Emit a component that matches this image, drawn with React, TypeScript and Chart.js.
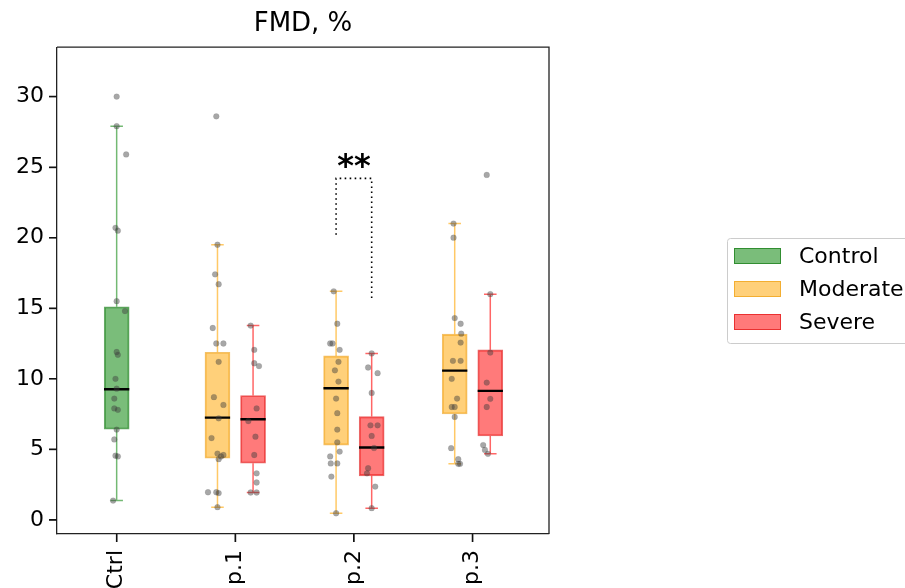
import React, { useEffect, useRef } from "react";
import { Chart, registerables } from "chart.js";
Chart.register(...registerables);

// ---------- data ----------
const categories = ["Ctrl", "p.1", "p.2", "p.3"];
const seriesNames = ["Control", "Moderate", "Severe"];
const yTickValues = [0, 5, 10, 15, 20, 25, 30];
const titleText = "FMD, %";

// box statistics (category index, whisker low, Q1, median, Q3, whisker high)
const controlCategory = [0];
const controlLow = [1.37];
const controlQ1 = [6.43];
const controlMedian = [9.26];
const controlQ3 = [15.1];
const controlHigh = [27.9];

const moderateCategory = [1, 2, 3];
const moderateLow = [0.9, 0.47, 3.97];
const moderateQ1 = [4.37, 5.3, 7.51];
const moderateMedian = [7.25, 9.33, 10.58];
const moderateQ3 = [11.88, 11.62, 13.16];
const moderateHigh = [19.5, 16.2, 21.0];

const severeCategory = [1, 2, 3];
const severeLow = [1.94, 0.83, 4.68];
const severeQ1 = [4.02, 3.12, 5.95];
const severeMedian = [7.13, 5.13, 9.14];
const severeQ3 = [8.81, 7.32, 12.05];
const severeHigh = [13.77, 11.8, 16.0];

// individual observations and their horizontal jitter (category units)
const ctrlValues = [30.0, 27.9, 25.9, 20.7, 20.5, 15.5, 14.8, 11.9, 11.7, 10.0, 9.3, 8.6, 7.9, 7.8, 6.4, 5.7, 4.55, 4.5, 1.37];
const ctrlJitter = [0.0, 0.0, 0.08, -0.01, 0.01, 0.0, 0.07, 0.0, 0.01, -0.01, 0.0, -0.02, -0.02, 0.01, 0.0, -0.02, -0.01, 0.01, -0.03];

const mod1Values = [28.6, 19.5, 17.4, 16.7, 13.6, 12.5, 12.5, 11.2, 8.7, 8.15, 7.2, 5.8, 4.7, 4.6, 4.5, 4.3, 1.96, 1.96, 1.9, 0.9];
const mod1Jitter = [-0.01, 0.0, -0.02, 0.01, -0.04, -0.01, 0.05, 0.01, -0.03, 0.05, 0.01, -0.05, 0.0, 0.05, 0.03, 0.01, -0.08, -0.01, 0.01, 0.0];
const mod2Values = [16.2, 13.9, 12.5, 12.5, 12.05, 11.2, 10.6, 9.8, 8.6, 7.56, 6.4, 5.5, 4.84, 4.5, 4.0, 4.0, 3.07, 0.47];
const mod2Jitter = [-0.02, 0.01, -0.05, -0.03, 0.03, 0.02, -0.01, 0.02, 0.0, 0.01, 0.01, 0.01, 0.03, -0.05, -0.045, 0.01, -0.04, 0.0];
const mod3Values = [21.0, 20.0, 14.3, 13.9, 13.2, 12.57, 11.27, 11.27, 10.0, 8.6, 8.0, 8.0, 7.3, 5.08, 4.3, 3.97, 3.97];
const mod3Jitter = [-0.01, -0.01, 0.0, 0.05, 0.055, 0.05, -0.015, 0.05, -0.025, 0.02, -0.025, 0.0, 0.0, -0.03, 0.03, 0.03, 0.045];

const sev1Values = [13.77, 12.05, 11.1, 10.9, 7.9, 7.0, 5.9, 4.6, 3.3, 2.65, 1.94, 1.94];
const sev1Jitter = [-0.02, 0.01, 0.01, 0.05, 0.03, -0.04, 0.02, 0.01, 0.03, 0.03, -0.02, 0.03];
const sev2Values = [11.8, 10.8, 10.4, 9.0, 6.7, 6.7, 5.95, 5.1, 3.66, 3.3, 2.36, 0.83];
const sev2Jitter = [0.0, -0.03, 0.05, 0.0, -0.01, 0.05, 0.0, 0.02, -0.03, -0.04, 0.03, 0.0];
const sev3Values = [24.45, 16.0, 11.86, 9.73, 8.58, 8.0, 5.3, 4.96, 4.68];
const sev3Jitter = [-0.03, 0.0, 0.0, -0.03, 0.0, -0.03, -0.06, -0.045, -0.02];

// significance annotation between Moderate p.2 and Severe p.2
const sigLabel = "**";
const sigCategory = 2;
const sigLeftBottom = 20.2;
const sigTop = 24.2;
const sigRightBottom = 15.7;

// ---------- styles ----------
const GROUP_OFFSET = 0.15;
const BOX_HALF = 0.1065;
const CAP_HALF = 0.053;
const TICK_LEN = 8;
const FONT = "'DejaVu Sans', sans-serif";

const seriesDefs = [
  {
    name: seriesNames[0], cats: controlCategory, low: controlLow, q1: controlQ1, med: controlMedian, q3: controlQ3, high: controlHigh,
    values: [ctrlValues], jitter: [ctrlJitter], offset: 0,
    fill: "rgba(0,128,0,0.52)", edge: "rgba(0,110,0,0.6)", whisker: "rgba(0,128,0,0.55)",
  },
  {
    name: seriesNames[1], cats: moderateCategory, low: moderateLow, q1: moderateQ1, med: moderateMedian, q3: moderateQ3, high: moderateHigh,
    values: [mod1Values, mod2Values, mod3Values], jitter: [mod1Jitter, mod2Jitter, mod3Jitter], offset: -GROUP_OFFSET,
    fill: "rgba(255,165,0,0.52)", edge: "rgba(235,150,0,0.6)", whisker: "rgba(255,165,0,0.6)",
  },
  {
    name: seriesNames[2], cats: severeCategory, low: severeLow, q1: severeQ1, med: severeMedian, q3: severeQ3, high: severeHigh,
    values: [sev1Values, sev2Values, sev3Values], jitter: [sev1Jitter, sev2Jitter, sev3Jitter], offset: GROUP_OFFSET,
    fill: "rgba(255,0,0,0.52)", edge: "rgba(220,0,0,0.6)", whisker: "rgba(255,0,0,0.6)",
  },
];

function buildDatasets() {
  const datasets: any[] = [];
  const medianPts: any[] = [];
  const scatterPts: any[] = [];
  seriesDefs.forEach((s) => {
    datasets.push({
      type: "bar",
      label: s.name,
      data: s.cats.map((c, i) => ({ x: c + s.offset, y: [s.q1[i], s.q3[i]] })),
      backgroundColor: s.fill,
      borderColor: s.edge,
      borderWidth: 1.2,
      borderSkipped: false,
      barThickness: 25,
      grouped: false,
      order: 5,
    });
    const wh: any[] = [];
    s.cats.forEach((c, i) => {
      const x = c + s.offset;
      wh.push({ x, y: s.low[i] }, { x, y: s.q1[i] }, { x, y: null });
      wh.push({ x, y: s.q3[i] }, { x, y: s.high[i] }, { x, y: null });
      wh.push({ x: x - CAP_HALF, y: s.low[i] }, { x: x + CAP_HALF, y: s.low[i] }, { x, y: null });
      wh.push({ x: x - CAP_HALF, y: s.high[i] }, { x: x + CAP_HALF, y: s.high[i] }, { x, y: null });
      medianPts.push({ x: x - BOX_HALF, y: s.med[i] }, { x: x + BOX_HALF, y: s.med[i] }, { x, y: null });
      s.values[i].forEach((v, k) => scatterPts.push({ x: x + s.jitter[i][k], y: v }));
    });
    datasets.push({
      type: "line",
      data: wh,
      borderColor: s.whisker,
      borderWidth: 1.5,
      pointRadius: 0,
      spanGaps: false,
      fill: false,
      order: 4,
    });
  });
  datasets.push({
    type: "line",
    data: medianPts,
    borderColor: "#000",
    borderWidth: 2.4,
    pointRadius: 0,
    spanGaps: false,
    fill: false,
    order: 3,
  });
  datasets.push({
    type: "scatter",
    data: scatterPts,
    backgroundColor: "rgba(60,60,60,0.45)",
    borderColor: "rgba(60,60,60,0.2)",
    borderWidth: 0.5,
    pointRadius: 2.9,
    order: 2,
  });
  datasets.push({
    type: "line",
    data: [
      { x: sigCategory - GROUP_OFFSET, y: sigLeftBottom },
      { x: sigCategory - GROUP_OFFSET, y: sigTop },
      { x: sigCategory + GROUP_OFFSET, y: sigTop },
      { x: sigCategory + GROUP_OFFSET, y: sigRightBottom },
    ],
    borderColor: "#000",
    borderWidth: 1.6,
    borderDash: [1.6, 3.4],
    pointRadius: 0,
    fill: false,
    tension: 0,
    order: 1,
  });
  return datasets;
}

const framePlugin = {
  id: "frameAndExtras",
  afterDraw(chart: any) {
    const { ctx, chartArea, scales } = chart;
    ctx.save();
    // top and right spines
    ctx.strokeStyle = "#222";
    ctx.lineWidth = 1.3;
    ctx.beginPath();
    ctx.moveTo(chartArea.left, chartArea.top);
    ctx.lineTo(chartArea.right, chartArea.top);
    ctx.lineTo(chartArea.right, chartArea.bottom);
    ctx.stroke();

    // outward tick marks
    ctx.strokeStyle = "#111";
    ctx.lineWidth = 1.5;
    ctx.beginPath();
    categories.forEach((_, i) => {
      const px = scales.x.getPixelForValue(i);
      ctx.moveTo(px, chartArea.bottom);
      ctx.lineTo(px, chartArea.bottom + TICK_LEN);
    });
    yTickValues.forEach((v) => {
      const py = scales.y.getPixelForValue(v);
      ctx.moveTo(chartArea.left - TICK_LEN, py);
      ctx.lineTo(chartArea.left, py);
    });
    ctx.stroke();

    // significance label
    ctx.fillStyle = "#000";
    ctx.font = `bold 32px ${FONT}`;
    ctx.textAlign = "center";
    ctx.textBaseline = "alphabetic";
    ctx.fillText(sigLabel, scales.x.getPixelForValue(sigCategory), scales.y.getPixelForValue(sigTop) - 2);

    // legend
    const lx = 727, ly = 238, lw = 200, lh = 105;
    ctx.fillStyle = "rgba(255,255,255,0.8)";
    ctx.strokeStyle = "rgba(204,204,204,1)";
    ctx.lineWidth = 1;
    ctx.beginPath();
    (ctx as any).roundRect(lx + 0.5, ly + 0.5, lw, lh, 3);
    ctx.fill();
    ctx.stroke();
    ctx.font = `22px ${FONT}`;
    ctx.textAlign = "left";
    ctx.textBaseline = "middle";
    seriesDefs.forEach((s, i) => {
      const y = ly + 10 + i * 33;
      ctx.fillStyle = s.fill;
      ctx.fillRect(734, y, 47, 16);
      ctx.strokeStyle = s.edge;
      ctx.lineWidth = 1;
      ctx.strokeRect(734.5, y + 0.5, 46, 15);
      ctx.fillStyle = "#000";
      ctx.fillText(s.name, 799, y + 9);
    });
    ctx.restore();
  },
};

export default function App() {
  const ref = useRef<HTMLCanvasElement>(null);
  useEffect(() => {
    if (!ref.current) return;
    Chart.defaults.font.family = FONT;
    const axisCommon = {
      type: "linear" as const,
      offset: false,
      grid: { display: true, offset: false, drawOnChartArea: false, drawTicks: true, tickLength: TICK_LEN, color: "#222", lineWidth: 1.2 },
      border: { display: true, color: "#222", width: 1.3 },
    };
    const chart = new Chart(ref.current, {
      type: "bar",
      data: { datasets: buildDatasets() },
      options: {
        responsive: false,
        animation: false,
        devicePixelRatio: 1,
        layout: { padding: { left: 0, right: 356, top: 0, bottom: 0 } },
        plugins: {
          legend: { display: false },
          tooltip: { enabled: false },
          title: {
            display: true,
            text: titleText,
            fullSize: false,
            color: "#000",
            font: { size: 26, weight: "normal" as any, family: FONT },
            padding: { top: 9, bottom: 7 },
          },
        },
        scales: {
          x: {
            ...axisCommon,
            min: -0.503,
            max: 3.645,
            afterBuildTicks: (s: any) => {
              s.ticks = categories.map((_, i) => ({ value: i }));
            },
            afterFit: (s: any) => {
              s.height = 54;
            },
            ticks: {
              autoSkip: false,
              minRotation: 90,
              maxRotation: 90,
              padding: 8,
              color: "#000",
              font: { size: 22, family: FONT },
              callback: (v: any) => categories[v] ?? "",
            },
          },
          y: {
            ...axisCommon,
            min: -1.0,
            max: 33.5,
            afterBuildTicks: (s: any) => {
              s.ticks = yTickValues.map((v) => ({ value: v }));
            },
            afterFit: (s: any) => {
              s.width = 57;
            },
            ticks: {
              padding: 5,
              color: "#000",
              font: { size: 22, family: FONT },
            },
          },
        },
      },
      plugins: [framePlugin],
    });
    return () => chart.destroy();
  }, []);
  return (
    <div style={{ position: "fixed", left: 0, top: 0, width: 905, height: 588, background: "#fff" }}>
      <canvas ref={ref} width={905} height={588} style={{ display: "block", width: 905, height: 588 }} />
    </div>
  );
}
